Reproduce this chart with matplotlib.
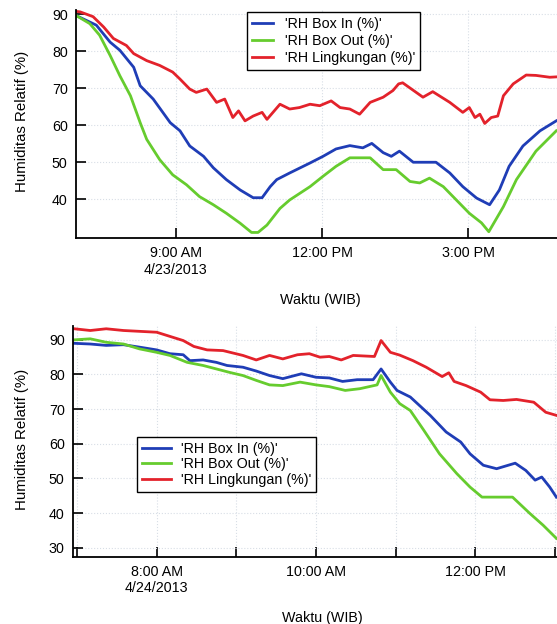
import matplotlib
matplotlib.use("Agg")
from matplotlib import pyplot as plt

plt.rcParams['font.family'] = ['Liberation Sans', 'DejaVu Sans']
plt.rcParams['font.size'] = 10

# ---- 23 April 2013 ----
top_in_t = ["6:58", "7:22", "7:39", "7:51", "8:08", "8:16", "8:32", "8:53", "9:05", "9:17",
            "9:34", "9:46", "10:02", "10:19", "10:35", "10:46", "10:56", "11:04", "11:20", "11:45",
            "12:01", "12:17", "12:34", "12:50", "13:01", "13:15", "13:25", "13:35", "13:52", "14:20",
            "14:37", "14:53", "15:10", "15:26", "15:38", "15:50", "16:07", "16:28", "16:48"]
top_in = [89.6, 87.1, 82.5, 80.3, 75.7, 70.7, 67.1, 60.7, 58.5, 54.4,
          51.6, 48.5, 45.3, 42.5, 40.4, 40.4, 43.4, 45.3, 47.1, 49.8,
          51.6, 53.6, 54.5, 53.9, 55.1, 52.6, 51.6, 53.0, 50.0, 50.0,
          47.1, 43.4, 40.3, 38.5, 42.5, 48.9, 54.4, 58.5, 61.2]

top_out_t = ["6:58", "7:14", "7:26", "7:39", "7:51", "8:04", "8:16", "8:24", "8:40", "8:56",
             "9:13", "9:29", "9:46", "10:02", "10:19", "10:33", "10:41", "10:52", "11:08", "11:20",
             "11:45", "12:01", "12:17", "12:34", "12:59", "13:15", "13:31", "13:48", "14:00", "14:12",
             "14:29", "14:45", "15:01", "15:16", "15:25", "15:43", "15:59", "16:23", "16:48"]
top_out = [89.6, 87.5, 84.4, 78.9, 73.4, 68.0, 60.7, 56.2, 50.7, 46.6,
           43.9, 40.7, 38.5, 36.2, 33.5, 31.0, 31.0, 33.0, 37.5, 39.8,
           43.4, 46.2, 48.9, 51.2, 51.2, 48.0, 48.0, 44.8, 44.4, 45.7,
           43.4, 39.8, 36.2, 33.6, 31.2, 38.0, 45.3, 53.0, 58.5]

top_env_t = ["6:58", "7:02", "7:18", "7:31", "7:43", "7:59", "8:08", "8:24", "8:40", "8:56",
             "9:05", "9:17", "9:25", "9:38", "9:50", "10:00", "10:10", "10:17", "10:25", "10:35",
             "10:46", "10:52", "11:08", "11:20", "11:32", "11:45", "11:57", "12:11", "12:22", "12:34",
             "12:46", "12:59", "13:15", "13:27", "13:34", "13:39", "14:04", "14:16", "14:37", "14:53",
             "15:01", "15:08", "15:14", "15:20", "15:28", "15:36", "15:43", "15:55", "16:11", "16:23",
             "16:40", "16:48"]
top_env = [90.8, 90.7, 89.4, 86.6, 83.5, 81.6, 79.4, 77.5, 76.2, 74.4,
           72.5, 69.8, 68.9, 69.8, 66.2, 67.1, 62.1, 63.9, 61.2, 62.5,
           63.5, 61.6, 65.7, 64.4, 64.8, 65.7, 65.3, 66.6, 64.8, 64.4,
           63.0, 66.2, 67.6, 69.4, 71.2, 71.5, 67.6, 69.1, 66.2, 63.5,
           64.8, 62.1, 63.0, 60.5, 62.1, 62.5, 68.0, 71.2, 73.6, 73.5,
           73.0, 73.1]

# ---- 24 April 2013 ----
bot_in_t = ["6:58", "7:10", "7:22", "7:35", "7:47", "8:00", "8:10", "8:20", "8:25", "8:35",
            "8:45", "8:53", "9:05", "9:15", "9:25", "9:35", "9:49", "10:00", "10:10", "10:20",
            "10:31", "10:43", "10:49", "10:56", "11:01", "11:11", "11:26", "11:38", "11:49", "11:56",
            "12:06", "12:16", "12:30", "12:38", "12:45", "12:50", "12:56", "13:01"]
bot_in = [89.0, 88.8, 88.4, 88.6, 87.9, 87.1, 86.0, 85.7, 84.0, 84.2,
          83.5, 82.6, 82.1, 81.0, 79.7, 78.8, 80.2, 79.2, 79.0, 78.0,
          78.5, 78.5, 81.6, 77.8, 75.4, 73.5, 68.2, 63.4, 60.5, 57.1,
          53.8, 52.8, 54.4, 52.3, 49.5, 50.4, 47.5, 44.6]

bot_out_t = ["6:58", "7:10", "7:22", "7:35", "7:47", "8:00", "8:10", "8:23", "8:35", "8:47",
             "8:55", "9:05", "9:15", "9:25", "9:35", "9:48", "10:00", "10:10", "10:22", "10:33",
             "10:46", "10:49", "10:56", "11:03", "11:11", "11:21", "11:33", "11:46", "11:56", "12:05",
             "12:28", "12:41", "12:51", "13:01"]
bot_out = [90.0, 90.3, 89.3, 88.8, 87.4, 86.4, 85.5, 83.5, 82.6, 81.4,
           80.6, 79.7, 78.3, 77.0, 76.8, 77.8, 77.0, 76.5, 75.4, 75.9,
           77.0, 79.7, 74.9, 71.6, 69.6, 64.0, 57.1, 51.4, 47.5, 44.6,
           44.6, 39.9, 36.5, 32.7]

bot_env_t = ["6:58", "7:10", "7:22", "7:35", "8:00", "8:10", "8:20", "8:28", "8:38", "8:50",
             "9:05", "9:15", "9:25", "9:35", "9:46", "9:55", "10:03", "10:10", "10:19", "10:28",
             "10:44", "10:49", "10:56", "11:03", "11:13", "11:23", "11:35", "11:40", "11:44", "11:53",
             "12:04", "12:11", "12:21", "12:31", "12:44", "12:53", "13:01"]
bot_env = [93.2, 92.7, 93.2, 92.7, 92.2, 91.0, 89.8, 88.1, 87.1, 86.9,
           85.5, 84.2, 85.5, 84.5, 85.7, 86.0, 85.0, 85.2, 84.2, 85.5,
           85.2, 89.8, 86.4, 85.6, 84.0, 82.1, 79.4, 80.5, 78.0, 76.8,
           74.9, 72.7, 72.5, 72.8, 72.0, 69.1, 68.2]

labels = ["'RH Box In (%)'", "'RH Box Out (%)'", "'RH Lingkungan (%)'"]
colors = ['#1f3db6', '#66cc2e', '#e3222b']

top_ticks = [9, 12, 15]
top_ticklabels = ["9:00 AM\n4/23/2013", "12:00 PM", "3:00 PM"]
bot_ticks = [7, 8, 9, 10, 11, 12, 13]
bot_ticklabels = ["", "8:00 AM\n4/24/2013", "", "10:00 AM", "", "12:00 PM", ""]


def hours(ts):
    out = []
    for s in ts:
        h, m = s.split(':')
        out.append(int(h) + int(m) / 60.0)
    return out


def style(ax):
    ax.spines['top'].set_visible(False)
    ax.spines['right'].set_visible(False)
    ax.spines['left'].set_linewidth(1.3)
    ax.spines['bottom'].set_linewidth(1.3)
    ax.tick_params(direction='in', length=7, width=1.2, labelsize=10.3, pad=6)
    ax.grid(True, color='#d8dee6', linestyle=':', linewidth=0.8)
    ax.set_axisbelow(True)


fig = plt.figure(figsize=(5.57, 6.24), dpi=100)

# grafik atas
ax1 = fig.add_axes([76 / 557, 386 / 624, 490 / 557, 228 / 624])
for t, v, c, lab in zip([top_in_t, top_out_t, top_env_t], [top_in, top_out, top_env], colors, labels):
    ax1.plot(hours(t), v, color=c, lw=2.0, label=lab)
ax1.set_xlim(6.95, 17.0)
ax1.set_ylim(29.5, 91.2)
ax1.set_yticks([40, 50, 60, 70, 80, 90])
ax1.set_xticks(top_ticks)
ax1.set_xticklabels(top_ticklabels)
style(ax1)
ax1.set_ylabel('Humiditas Relatif (%)', fontsize=10.8)
ax1.yaxis.set_label_coords(-0.096, 0.51)
ax1.set_xlabel('Waktu (WIB)', fontsize=10.3)
ax1.xaxis.set_label_coords(0.498, -0.241)
leg = ax1.legend(loc='upper left', bbox_to_anchor=(0.349, 0.99), borderaxespad=0,
                 fontsize=10.3, handlelength=1.5, handletextpad=0.8, labelspacing=0.2,
                 borderpad=0.35, fancybox=False, edgecolor='black', framealpha=1)
leg.get_frame().set_linewidth(1.0)

# grafik bawah
ax2 = fig.add_axes([73 / 557, 67.3 / 624, 490 / 557, 230.7 / 624])
for t, v, c, lab in zip([bot_in_t, bot_out_t, bot_env_t], [bot_in, bot_out, bot_env], colors, labels):
    ax2.plot(hours(t), v, color=c, lw=2.0, label=lab)
ax2.set_xlim(6.95, 13.1)
ax2.set_ylim(27.4, 94.0)
ax2.set_yticks([30, 40, 50, 60, 70, 80, 90])
ax2.set_xticks(bot_ticks)
ax2.set_xticklabels(bot_ticklabels)
style(ax2)
ax2.set_ylabel('Humiditas Relatif (%)', fontsize=10.8)
ax2.yaxis.set_label_coords(-0.09, 0.51)
ax2.set_xlabel('Waktu (WIB)', fontsize=10.3)
ax2.xaxis.set_label_coords(0.508, -0.235)
leg = ax2.legend(loc='upper left', bbox_to_anchor=(0.131, 0.52), borderaxespad=0,
                 fontsize=10.3, handlelength=2.0, handletextpad=0.7, labelspacing=0.12,
                 borderpad=0.35, fancybox=False, edgecolor='black', framealpha=1)
leg.get_frame().set_linewidth(1.0)

fig.savefig('out.png', dpi=100)
